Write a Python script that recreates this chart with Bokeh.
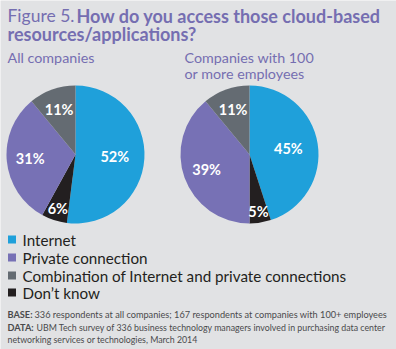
import numpy as np
from bokeh.plotting import figure
from bokeh.models import ColumnDataSource, Range1d, Label
from bokeh.core.properties import value
from bokeh.embed import file_html
from bokeh.resources import INLINE

# ---- data ----
categories = ["Internet", "Private connection",
              "Combination of Internet and private connections", "Don\u2019t know"]
all_companies = [52, 31, 11, 6]
large_companies = [45, 39, 11, 5]
# drawing order clockwise from 12 o'clock
clock_order = ["Internet", "Don\u2019t know", "Private connection",
               "Combination of Internet and private connections"]
colors = {"Internet": "#1fa0da", "Private connection": "#7771b5",
          "Combination of Internet and private connections": "#646b72",
          "Don\u2019t know": "#231f20"}
label_r = {"Internet": 0.57, "Private connection": 0.66,
           "Combination of Internet and private connections": 0.70,
           "Don\u2019t know": 0.83}

title_regular = "Figure 5."
title_bold_1 = "How do you access those cloud-based"
title_bold_2 = "resources/applications?"
sub_1 = "All companies"
sub_2 = ["Companies with 100", "or more employees"]
base_note = "336 respondents at all companies; 167 respondents at companies with 100+ employees"
data_note = ["UBM Tech survey of 336 business technology managers involved in purchasing data center",
             "networking services or technologies, March 2014"]

W, H = 396, 349
BG = "#e1e2e4"
PURPLE = "#756eb1"
FONT = "Lato"

p = figure(width=W, height=H, output_backend="svg", toolbar_location=None,
           x_range=Range1d(0, W), y_range=Range1d(0, H),
           x_axis_type=None, y_axis_type=None, min_border=0)
p.background_fill_color = BG
p.border_fill_color = BG
p.outline_line_color = None
p.grid.visible = False


def Y(y):
    return H - y


def pie(cx, cy, r, values):
    vals = dict(zip(categories, values))
    total = sum(values)
    start = np.pi / 2
    rows = dict(start=[], end=[], color=[], lx=[], ly=[], txt=[])
    for c in clock_order:
        frac = vals[c] / total
        end = start - frac * 2 * np.pi
        mid = (start + end) / 2
        rows["start"].append(start)
        rows["end"].append(end)
        rows["color"].append(colors[c])
        rows["lx"].append(cx + label_r[c] * r * np.cos(mid))
        rows["ly"].append(Y(cy) + label_r[c] * r * np.sin(mid))
        rows["txt"].append(f"{vals[c]}%")
        start = end
    src = ColumnDataSource(rows)
    p.wedge(x=cx, y=Y(cy), radius=r, start_angle="end", end_angle="start",
            fill_color="color", line_color=None, source=src)
    p.text(x="lx", y="ly", text="txt", source=src, text_color="white",
           text_font=value(FONT), text_font_style="bold", text_font_size="14.5px",
           text_align="center", text_baseline="middle")


pie(75, 154, 69, all_companies)
pie(249, 154, 69, large_companies)

# titles
p.add_layout(Label(x=7, y=Y(15), text=title_regular, text_font=FONT, text_font_size="17.5px",
                   text_color=PURPLE, text_baseline="middle"))
p.add_layout(Label(x=76, y=Y(15), text=title_bold_1, text_font=FONT, text_font_size="18px",
                   text_font_style="bold", text_color=PURPLE, text_baseline="middle"))
p.add_layout(Label(x=7, y=Y(33), text=title_bold_2, text_font=FONT, text_font_size="18px",
                   text_font_style="bold", text_color=PURPLE, text_baseline="middle"))
p.add_layout(Label(x=7, y=Y(57), text=sub_1, text_font=FONT, text_font_size="14.3px",
                   text_color=PURPLE, text_baseline="middle"))
for i, s in enumerate(sub_2):
    p.add_layout(Label(x=184, y=Y(57 + 16 * i), text=s, text_font=FONT, text_font_size="14.3px",
                       text_color=PURPLE, text_baseline="middle"))

# legend
leg_y = [239, 257, 275, 292]
leg_src = ColumnDataSource(dict(x=[11.5] * 4, y=[Y(v) for v in leg_y],
                                tx=[22] * 4, label=categories,
                                color=[colors[c] for c in categories]))
p.rect(x="x", y="y", width=8, height=8, fill_color="color", line_color=None, source=leg_src)
p.text(x="tx", y="y", text="label", source=leg_src, text_color="#231f20",
       text_font=value(FONT), text_font_size="15.2px", text_baseline="middle")

# footnotes
NOTE = "#4a4a4c"
FS = "9.2px"
FS2 = "8.8px"
p.add_layout(Label(x=7, y=Y(314), text="BASE:", text_font=FONT, text_font_size=FS,
                   text_font_style="bold", text_color=NOTE, text_baseline="middle"))
p.add_layout(Label(x=34, y=Y(314), text=base_note, text_font=FONT, text_font_size=FS,
                   text_color=NOTE, text_baseline="middle"))
p.add_layout(Label(x=7, y=Y(327), text="DATA:", text_font=FONT, text_font_size=FS,
                   text_font_style="bold", text_color=NOTE, text_baseline="middle"))
p.add_layout(Label(x=36, y=Y(327), text=data_note[0], text_font=FONT, text_font_size=FS2,
                   text_color=NOTE, text_baseline="middle"))
p.add_layout(Label(x=7, y=Y(339), text=data_note[1], text_font=FONT, text_font_size=FS2,
                   text_color=NOTE, text_baseline="middle"))

open("out.html", "w").write(file_html(p, INLINE))
